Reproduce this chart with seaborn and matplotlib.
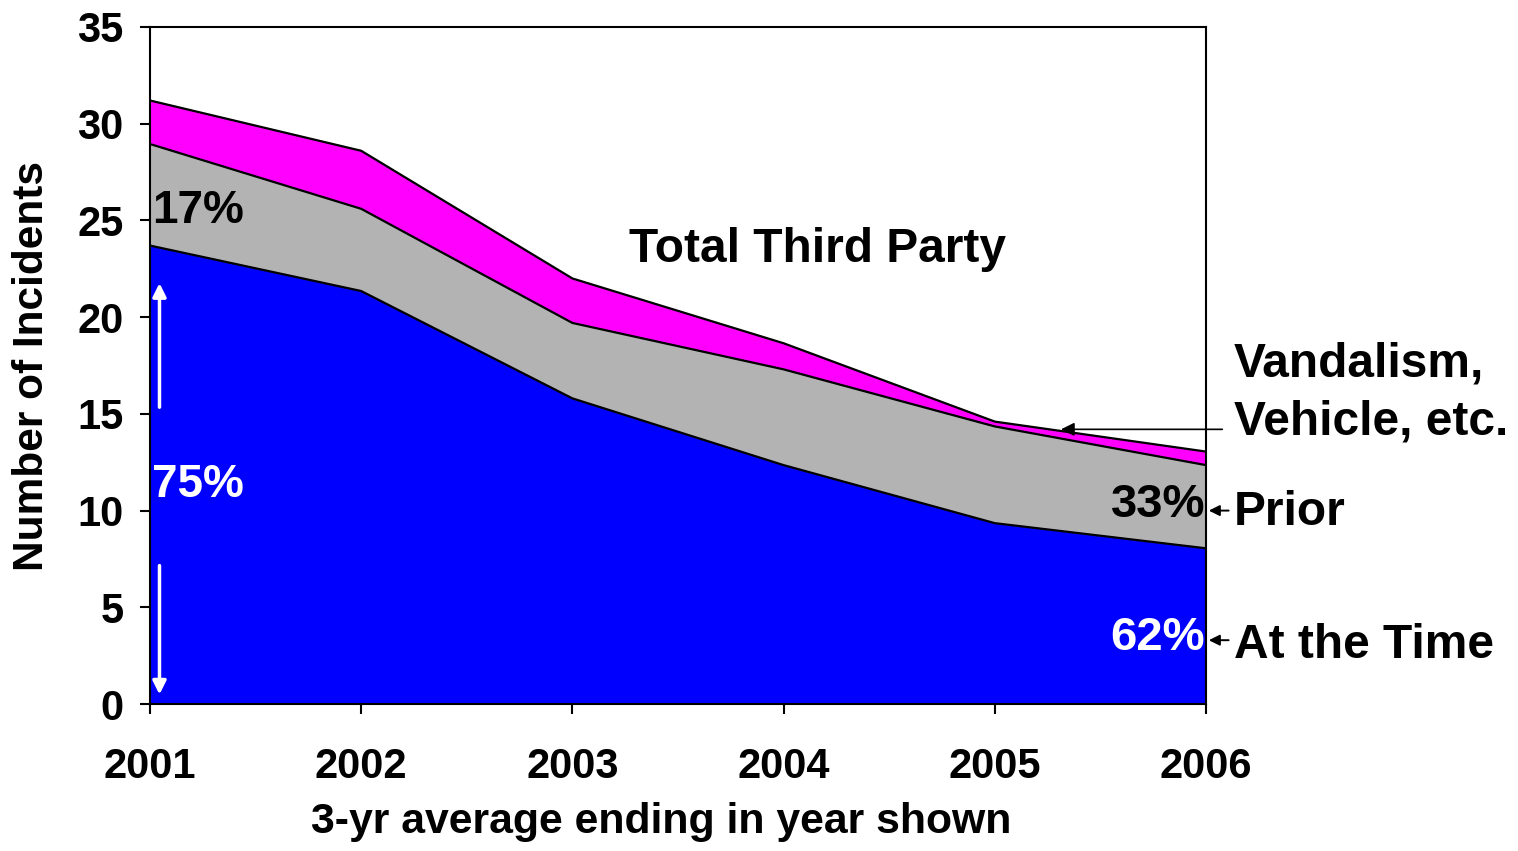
import matplotlib
matplotlib.use("Agg")
import matplotlib.pyplot as plt
import pandas as pd
import seaborn as sns

# 3-yr average incidents by category
years = [2001, 2002, 2003, 2004, 2005, 2006]
at_the_time = [23.7, 21.35, 15.8, 12.35, 9.35, 8.05]
prior_top = [28.95, 25.6, 19.7, 17.3, 14.35, 12.35]
total_top = [31.2, 28.6, 22.0, 18.65, 14.6, 13.05]

y_ticks = [0, 5, 10, 15, 20, 25, 30, 35]

df = pd.DataFrame({
    "year": years,
    "at_the_time": at_the_time,
    "prior": prior_top,
    "total": total_top,
})

sns.set_style("white")
plt.rcParams["font.family"] = ["Liberation Sans", "DejaVu Sans"]
plt.rcParams["font.weight"] = "bold"
plt.rcParams["text.color"] = "black"
plt.rcParams["axes.labelcolor"] = "black"
plt.rcParams["xtick.color"] = "black"
plt.rcParams["ytick.color"] = "black"

fig = plt.figure(figsize=(15.18, 8.51), dpi=100)
ax = fig.add_axes([0.0988, 0.1727, 0.6957, 0.7956])

ax.fill_between(df["year"], 0, df["at_the_time"], color="#0000ff", lw=0)
ax.fill_between(df["year"], df["at_the_time"], df["prior"], color="#b3b3b3", lw=0)
ax.fill_between(df["year"], df["prior"], df["total"], color="#ff00ff", lw=0)
for col in ["at_the_time", "prior", "total"]:
    sns.lineplot(data=df, x="year", y=col, ax=ax, color="black", lw=1.6)

ax.set_xlim(2001, 2006)
ax.set_ylim(0, 35)
ax.set_xticks(years)
ax.set_yticks(y_ticks)
ax.tick_params(axis="both", direction="out", length=7, width=1.5, labelsize=30,
               left=True, bottom=True, colors="black")
ax.tick_params(axis="x", pad=24)
ax.tick_params(axis="y", pad=12)
for lab in ax.get_xticklabels() + ax.get_yticklabels():
    lab.set_fontweight("bold")
for s in ax.spines.values():
    s.set_color("black")
    s.set_linewidth(1.5)

ax.set_xlabel("3-yr average ending in year shown", fontsize=30.8, fontweight="bold")
ax.xaxis.set_label_coords(0.484, -0.174)
ax.xaxis.label.set_va("center")
ax.set_ylabel("Number of Incidents", fontsize=30.5, fontweight="bold", labelpad=18)

# labels inside the areas
ax.text(2001.01, 25.5, "17%", fontsize=33, fontweight="bold", va="center", ha="left")
ax.text(2001.01, 11.3, "75%", fontsize=33, fontweight="bold", va="center", ha="left", color="white")
ax.text(2004.16, 23.5, "Total Third Party", fontsize=34.5, fontweight="bold", va="center", ha="center")
ax.text(2005.995, 10.3, "33%", fontsize=34, fontweight="bold", va="center", ha="right")
ax.text(2005.995, 3.4, "62%", fontsize=34, fontweight="bold", va="center", ha="right", color="white")

# white double arrow on the left edge
ax.annotate("", xy=(2001.045, 21.9), xytext=(2001.045, 15.2),
            arrowprops=dict(arrowstyle="-|>", color="white", lw=2.5, mutation_scale=20))
ax.annotate("", xy=(2001.045, 0.35), xytext=(2001.045, 7.3),
            arrowprops=dict(arrowstyle="-|>", color="white", lw=2.5, mutation_scale=20))

# callouts on the right
ax.annotate("", xy=(2005.3, 14.2), xytext=(2006.09, 14.2), annotation_clip=False,
            arrowprops=dict(arrowstyle="-|>", color="black", lw=1.2, mutation_scale=20))
ax.annotate("", xy=(2006.0, 10.0), xytext=(2006.12, 10.0), annotation_clip=False,
            arrowprops=dict(arrowstyle="-|>", color="black", lw=1.4, mutation_scale=16))
ax.annotate("", xy=(2006.0, 3.3), xytext=(2006.12, 3.3), annotation_clip=False,
            arrowprops=dict(arrowstyle="-|>", color="black", lw=1.4, mutation_scale=16))

ax.text(2006.13, 17.6, "Vandalism,", fontsize=34.5, fontweight="bold", va="center", ha="left", clip_on=False)
ax.text(2006.13, 14.6, "Vehicle, etc.", fontsize=34.5, fontweight="bold", va="center", ha="left", clip_on=False)
ax.text(2006.13, 9.9, "Prior", fontsize=34.5, fontweight="bold", va="center", ha="left", clip_on=False)
ax.text(2006.13, 3.05, "At the Time", fontsize=34.5, fontweight="bold", va="center", ha="left", clip_on=False)

fig.savefig("out.png", dpi=100)
